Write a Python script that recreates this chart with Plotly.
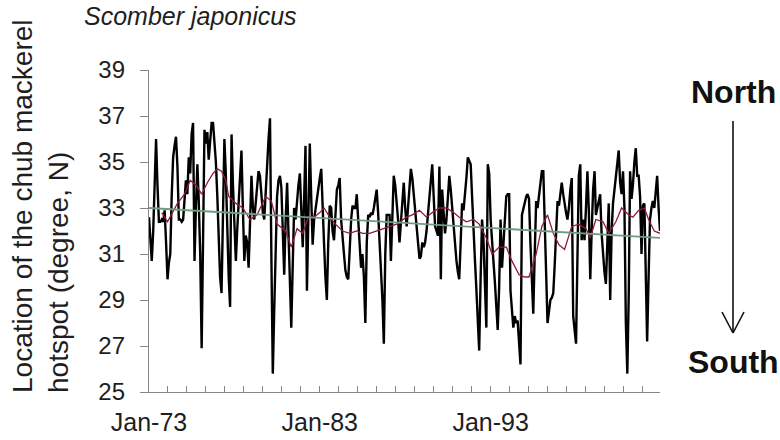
import pandas as pd
import plotly.graph_objects as go

# ---------------- data ----------------
start_month = "1973-01-01"
n_months = 360

hotspot_lat = [
    32.6, 31.5, 30.7, 32.0, 34.5, 36.0, 34.0, 32.4, 32.4, 32.5, 32.4, 32.9,   # 1973
    31.5, 29.9, 30.6, 31.0, 33.5, 35.2, 35.7, 36.1, 34.8, 32.5, 32.5, 32.4,   # 1974
    32.5, 33.5, 34.2, 33.6, 35.2, 34.5, 36.2, 36.7, 30.7, 33.0, 34.9, 33.3,   # 1975
    31.0, 26.9, 31.5, 36.4, 35.8, 36.3, 35.1, 36.0, 36.7, 36.7, 36.0, 35.0,   # 1976
    33.5, 31.5, 30.0, 29.3, 33.0, 36.0, 34.5, 32.0, 30.0, 28.7, 36.2, 34.0,   # 1977
    32.5, 30.7, 32.0, 33.2, 34.5, 35.5, 33.0, 30.7, 31.8, 31.5, 30.4, 32.5,   # 1978
    34.4, 33.0, 32.5, 33.2, 34.0, 34.6, 34.4, 33.5, 32.8, 32.5, 33.5, 34.8,   # 1979
    36.0, 36.9, 31.0, 25.8, 28.5, 31.5, 33.5, 34.2, 34.4, 33.9, 32.0, 30.1,   # 1980
    32.5, 34.1, 32.0, 29.5, 27.8, 30.5, 33.0, 32.5, 33.5, 34.0, 34.5, 33.0,   # 1981
    31.3, 33.5, 35.7, 29.4, 33.5, 35.8, 33.5, 31.4, 32.5, 33.0, 33.4, 34.0,   # 1982
    34.3, 34.7, 33.5, 31.5, 30.0, 29.0, 31.5, 33.1, 33.0, 32.0, 31.6, 32.8,   # 1983
    33.8, 34.0, 34.3, 32.5, 31.6, 31.0, 30.3, 30.0, 29.9, 31.5, 32.5, 33.1,   # 1984
    33.0, 33.0, 33.6, 32.5, 31.2, 30.4, 31.0, 30.0, 28.0, 31.5, 32.7, 32.6,   # 1985
    32.8, 32.7, 33.0, 33.4, 33.8, 32.8, 31.5, 30.7, 29.0, 27.1, 31.0, 32.7,   # 1986
    32.7, 32.7, 30.7, 33.0, 34.4, 34.0, 33.4, 32.5, 31.5, 32.5, 33.5, 34.1,   # 1987
    33.0, 32.2, 33.0, 34.0, 34.7, 34.3, 33.6, 33.0, 32.3, 31.5, 30.8, 30.9,   # 1988
    31.5, 31.3, 31.5, 32.0, 32.8, 33.5, 34.2, 34.9, 33.5, 32.2, 32.0, 31.8,   # 1989
    34.8, 29.9, 33.8, 33.0, 31.9, 32.5, 33.5, 34.4, 33.8, 33.0, 32.6, 31.5,   # 1990
    30.7, 30.2, 29.9, 31.5, 33.2, 32.9, 33.5, 34.3, 35.2, 35.0, 34.9, 33.5,   # 1991
    31.8, 30.7, 29.5, 28.0, 26.8, 30.0, 32.5, 31.6, 30.0, 27.8, 34.9, 34.5,   # 1992
    32.5, 31.3, 30.7, 29.8, 28.5, 27.7, 29.5, 32.5, 30.4, 31.5, 32.8, 33.5,   # 1993
    33.6, 33.6, 29.4, 28.5, 27.8, 28.3, 28.0, 28.1, 27.0, 26.2, 32.7, 33.0,   # 1994
    33.3, 33.5, 33.6, 33.4, 31.5, 30.0, 28.4, 31.0, 33.3, 33.0, 33.5, 34.0,   # 1995
    34.6, 34.6, 32.5, 30.0, 28.0, 28.5, 29.0, 29.1, 29.3, 30.5, 32.0, 33.3,   # 1996
    33.1, 33.8, 34.1, 33.6, 33.1, 32.8, 32.5, 33.0, 33.8, 34.3, 28.3, 27.5,   # 1997
    27.1, 31.0, 34.4, 34.9, 31.6, 32.5, 31.6, 33.0, 34.6, 32.9, 29.9, 32.0,   # 1998
    33.8, 34.6, 32.7, 33.0, 33.3, 33.6, 31.9, 31.0, 30.2, 29.7, 31.5, 33.2,   # 1999
    29.0, 32.0, 33.2, 33.8, 34.6, 35.0, 35.5, 34.1, 33.6, 34.6, 33.0, 28.0,   # 2000
    25.8, 29.3, 34.6, 33.4, 34.0, 35.0, 35.6, 34.4, 34.4, 33.5, 31.0, 33.1,   # 2001
    33.2, 30.0, 27.2, 30.0, 32.5, 33.0, 33.3, 33.0, 33.8, 34.4, 33.0, 32.0,   # 2002
]

# red smoothed line: (month index from Jan-73, value)
smooth_month = [9, 13, 20, 25, 29, 33, 37, 41, 45, 48, 51, 54, 56, 61, 66, 71, 76, 82, 86, 90,
                96, 100, 104, 108, 112, 116, 120, 123, 127, 131, 136, 141, 146, 150, 155, 160,
                164, 169, 174, 181, 185, 190, 195, 199, 204, 209, 214, 218, 223, 228, 232, 237,
                241, 246, 251, 255, 260, 264, 267, 272, 276, 280, 284, 288, 292, 297, 302, 307,
                310, 314, 319, 323, 328, 332, 337, 340, 344, 348, 351, 355, 359]
smooth_val = [32.8, 32.4, 33.2, 33.6, 34.2, 34.0, 33.6, 34.1, 34.5, 34.7, 34.6, 34.2, 33.5, 33.2,
              33.0, 32.5, 32.7, 33.5, 33.3, 32.3, 32.0, 31.3, 32.1, 31.9, 32.6, 32.6, 32.8, 33.0,
              32.6, 32.3, 32.0, 31.9, 32.0, 31.9, 31.9, 32.0, 32.1, 32.2, 32.3, 32.6, 32.7, 32.9,
              32.6, 32.8, 33.0, 33.0, 32.8, 32.6, 32.4, 32.5, 32.3, 31.7, 31.0, 31.3, 31.3, 30.7,
              30.1, 30.0, 30.0, 31.0, 32.2, 32.7, 31.9, 31.4, 31.2, 32.2, 32.3, 32.1, 31.7, 32.5,
              32.4, 31.9, 32.4, 33.0, 32.7, 32.6, 32.9, 33.0, 32.5, 32.0, 31.9]

# green linear trend (start, end)
trend_month = [0, 359]
trend_val = [33.0, 31.7]

tick_dates = ["1973-01-01", "1983-01-01", "1993-01-01"]
tick_text = ["Jan-73", "Jan-83", "Jan-93"]
y_ticks = [25, 27, 29, 31, 33, 35, 37, 39]

# ---------------- figure ----------------
dates = pd.date_range(start_month, periods=n_months, freq="MS")
FONT = "Liberation Sans, Arial, sans-serif"
TXT = "#1e1e1e"
AX = "#868686"

fig = go.Figure()
fig.add_trace(go.Scatter(x=dates, y=hotspot_lat, mode="lines",
                         line=dict(color="#000000", width=2.4), hoverinfo="skip"))
fig.add_trace(go.Scatter(x=[dates[m] for m in smooth_month], y=smooth_val, mode="lines",
                         line=dict(color="#8e1a40", width=1.3), hoverinfo="skip"))
fig.add_trace(go.Scatter(x=[dates[m] for m in trend_month], y=trend_val, mode="lines",
                         line=dict(color="#6f9c80", width=1.8), hoverinfo="skip"))

minor_dtick = (pd.Timestamp("1983-01-01") - pd.Timestamp("1973-01-01")).total_seconds() * 1000 / 9

fig.update_layout(
    width=780, height=440,
    margin=dict(l=149, r=120, t=70, b=48, autoexpand=False),
    paper_bgcolor="white", plot_bgcolor="white",
    showlegend=False,
    font=dict(family=FONT, color=TXT),
    xaxis=dict(
        type="date",
        automargin=False,
        range=[dates[0], dates[-1]],
        tickvals=tick_dates, ticktext=tick_text,
        ticks="inside", ticklen=6, tickcolor=AX, tickwidth=1,
        minor=dict(ticks="inside", ticklen=6, tickcolor=AX, tickwidth=1,
                   dtick=minor_dtick, tick0="1973-01-01", showgrid=False),
        showline=True, linecolor=AX, linewidth=1.3,
        showgrid=False, zeroline=False,
        tickfont=dict(size=25, family=FONT, color=TXT),
        ticklabelstandoff=8,
    ),
    yaxis=dict(
        automargin=False,
        range=[25, 39],
        tickvals=y_ticks,
        ticks="outside", ticklen=8, tickcolor=AX, tickwidth=1,
        showline=True, linecolor=AX, linewidth=1.3,
        showgrid=False, zeroline=False,
        tickfont=dict(size=24, family=FONT, color=TXT),
        ticklabelstandoff=10,
    ),
)

W, H = 511.0, 322.0
def px(x):
    return (x - 149) / W
def py(y):
    return (392 - y) / H

annots = [
    dict(text="<i>Scomber japonicus</i>", x=px(82), y=py(16), xanchor="left", yanchor="middle",
         font=dict(size=25, family=FONT, color=TXT)),
    dict(text="Location of the chub mackerel<br>hotspot (degree, N)", textangle=-90,
         x=px(40), y=py(206), xanchor="center", yanchor="middle", align="left",
         font=dict(size=28, family=FONT, color=TXT)),
    dict(text="<b>North</b>", x=px(733), y=py(92), xanchor="center", yanchor="middle",
         font=dict(size=32, family=FONT, color="#111111")),
    dict(text="<b>South</b>", x=px(733), y=py(362), xanchor="center", yanchor="middle",
         font=dict(size=32, family=FONT, color="#111111")),
]
for a in annots:
    a.update(xref="paper", yref="paper", showarrow=False)
    fig.add_annotation(**a)

arrow_pts = [((733, 121), (733, 333)), ((722, 312), (733, 333)), ((744, 312), (733, 333))]
for (x0, y0), (x1, y1) in arrow_pts:
    fig.add_shape(type="line", xref="paper", yref="paper",
                  x0=px(x0), y0=py(y0), x1=px(x1), y1=py(y1),
                  line=dict(color="#111111", width=1.6))

fig.write_html("out.html")
